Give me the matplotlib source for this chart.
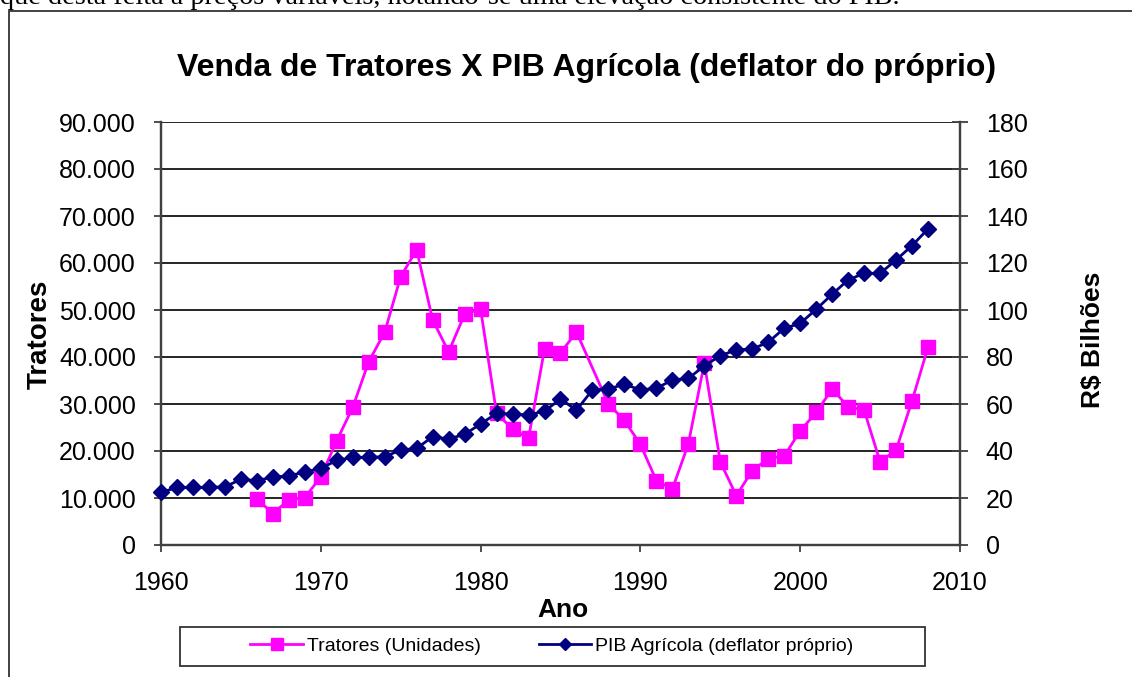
import matplotlib
matplotlib.use("Agg")
import matplotlib.pyplot as plt
from matplotlib.lines import Line2D
from matplotlib.patches import Rectangle
from matplotlib.ticker import FuncFormatter, MultipleLocator

plt.rcParams['font.family'] = ['Liberation Sans', 'DejaVu Sans']

# ---- data ----
trator_years = [1966, 1967, 1968, 1969, 1970, 1971, 1972, 1973, 1974, 1975,
                1976, 1977, 1978, 1979, 1980, 1981, 1982, 1983, 1984, 1985,
                1986, 1988, 1989, 1990, 1991, 1992, 1993, 1994, 1995, 1996,
                1997, 1998, 1999, 2000, 2001, 2002, 2003, 2004, 2005, 2006,
                2007, 2008]
tratores = [9800, 6700, 9600, 10100, 14500, 22200, 29300, 39000, 45300, 57100,
            62800, 47900, 41100, 49100, 50200, 28000, 24700, 22700, 41700, 40900,
            45300, 30000, 26500, 21400, 13700, 11900, 21500, 38700, 17700, 10500,
            15800, 18400, 18900, 24300, 28200, 33200, 29400, 28700, 17700, 20200,
            30700, 42100]

pib_years = list(range(1960, 2009))
pib = [22.4, 24.5, 24.5, 24.5, 24.8, 27.9, 27.4, 28.9, 29.4, 31.1,
       32.6, 36.0, 37.3, 37.3, 37.6, 40.4, 41.1, 46.1, 45.1, 47.1,
       51.5, 56.0, 55.7, 55.3, 57.0, 62.1, 57.4, 66.0, 66.4, 68.4,
       66.0, 66.7, 70.2, 70.9, 76.2, 80.6, 83.0, 83.4, 86.3, 92.2,
       94.3, 100.3, 106.7, 112.8, 115.6, 115.6, 121.3, 127.4, 134.5]

title = "Venda de Tratores X PIB Agrícola (deflator do próprio)"
label_trat = "Tratores (Unidades)"
label_pib = "PIB Agrícola (deflator próprio)"
top_text = "que desta feita a preços variáveis, notando-se uma elevação consistente do PIB."

PINK = "#FF00FF"
NAVY = "#000080"
W, H = 1132, 677

fig = plt.figure(figsize=(W / 100, H / 100), dpi=100)

# surrounding text (cut off at the top, as in the source page) and chart border
fig.text(0.0, 1 - 4 / H, top_text, fontsize=20.3, family=['Liberation Serif'],
         ha='left', va='baseline')
fig.patches.append(Rectangle((9 / W, -0.05), 1.2, 1 - 11 / H + 0.05,
                             transform=fig.transFigure, fill=False,
                             edgecolor='#333333', linewidth=1.3))

ax = fig.add_axes([161 / W, 1 - 545 / H, (960 - 161) / W, (545 - 122) / H])
ax2 = ax.twinx()

ax.plot(trator_years, tratores, color=PINK, lw=2.0, marker='s', ms=10,
        mec=PINK, mfc=PINK, zorder=3, clip_on=False)
ax2.plot(pib_years, pib, color=NAVY, lw=2.0, marker='D', ms=8,
         mec=NAVY, mfc=NAVY, zorder=3, clip_on=False)

ax.set_xlim(1960, 2010)
ax.set_ylim(0, 90000)
ax2.set_ylim(0, 180)
ax.xaxis.set_major_locator(MultipleLocator(10))
ax.yaxis.set_major_locator(MultipleLocator(10000))
ax2.yaxis.set_major_locator(MultipleLocator(20))
ax.yaxis.set_major_formatter(FuncFormatter(lambda v, p: f"{int(round(v)):,}".replace(',', '.')))

ax.grid(axis='y', color='black', lw=1.2)
ax.set_axisbelow(True)

for a in (ax, ax2):
    a.spines['top'].set_visible(False)
    for s in ('left', 'right', 'bottom'):
        a.spines[s].set_color('#404040')
        a.spines[s].set_linewidth(1.6)
    a.set_facecolor('none')

ax.tick_params(axis='y', direction='out', length=5, width=1.3, labelsize=18,
               pad=13, color='#404040')
ax.tick_params(axis='x', direction='out', length=5, width=1.3, labelsize=18,
               pad=14, color='#404040')
ax2.tick_params(axis='y', direction='inout', length=11, width=1.3, labelsize=18,
                pad=13, color='#404040')

# axis labels
fig.text(40 / W, 1 - 334 / H, "Tratores", rotation=90, fontsize=20,
         fontweight='bold', ha='center', va='center')
fig.text(1093 / W, 1 - 340 / H, "R$ Bilhões", rotation=90, fontsize=19,
         fontweight='bold', ha='center', va='center')
fig.text(563 / W, 1 - 610 / H, "Ano", fontsize=19, fontweight='bold',
         ha='center', va='center')
fig.text(587 / W, 1 - 68 / H, title, fontsize=23, fontweight='bold',
         ha='center', va='center')

# legend
handles = [Line2D([], [], color=PINK, lw=2.0, marker='s', ms=9, mec=PINK, mfc=PINK),
           Line2D([], [], color=NAVY, lw=2.0, marker='D', ms=6, mec=NAVY, mfc=NAVY)]
fig.legend(handles, [label_trat, label_pib], loc='center',
           bbox_to_anchor=(552 / W, 1 - 646 / H), ncol=2, frameon=False,
           fontsize=14, handlelength=2.7, handletextpad=0.2, columnspacing=3.0)
fig.patches.append(Rectangle((180 / W, 1 - 666 / H), (925 - 180) / W, 39 / H,
                             transform=fig.transFigure, fill=False,
                             edgecolor='#333333', linewidth=1.3))

fig.savefig("out.png", dpi=100)
